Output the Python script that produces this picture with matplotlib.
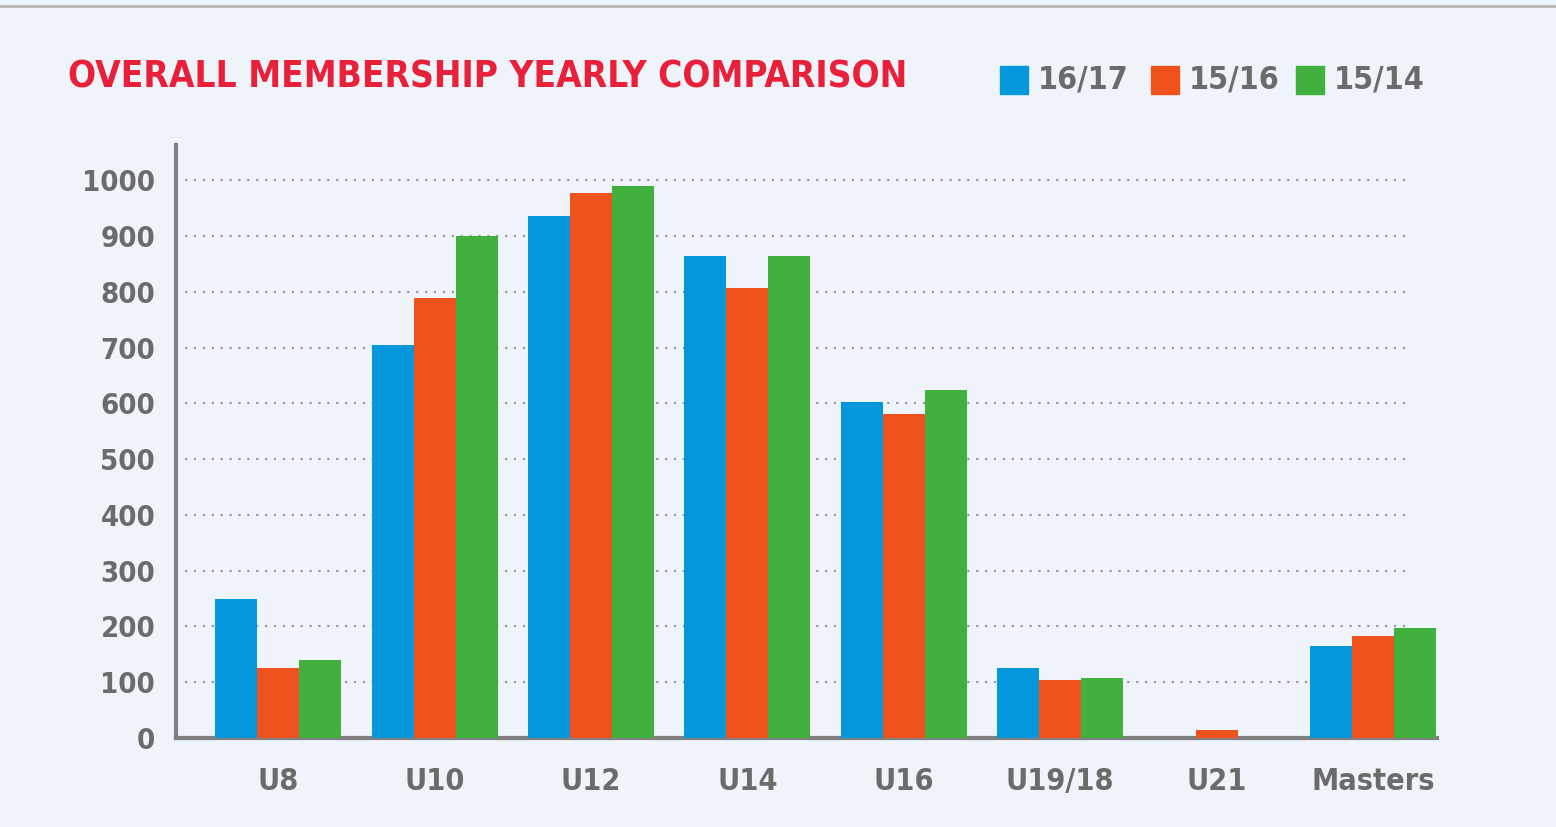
import matplotlib
matplotlib.use("Agg")
from matplotlib import pyplot as plt
from matplotlib.patches import Rectangle
import numpy as np

categories = ["U8", "U10", "U12", "U14", "U16", "U19/18", "U21", "Masters"]
season_1617 = [250, 705, 935, 864, 602, 125, 0, 165]
season_1516 = [125, 789, 977, 806, 581, 104, 14, 183]
season_1514 = [140, 900, 989, 864, 624, 108, 0, 197]
series_labels = ["16/17", "15/16", "15/14"]
yticks = [0, 100, 200, 300, 400, 500, 600, 700, 800, 900, 1000]

colors = ["#0497DB", "#F0521E", "#42B03E"]
bg = "#EFF4FB"
grey = "#6B6B6B"
font = ["DejaVu Sans"]

fig = plt.figure(figsize=(15.56, 8.27), dpi=100, facecolor=bg)
ax = fig.add_axes([176 / 1556, 1 - 738 / 827, (1437 - 176) / 1556, (738 - 145) / 827])
ax.set_facecolor(bg)

x = np.arange(len(categories))
w = 0.2685
for i, vals in enumerate([season_1617, season_1516, season_1514]):
    ax.bar(x + (i - 1) * w, vals, width=w, color=colors[i], zorder=3)

ax.set_xlim(-0.653, 7.409)
ax.set_ylim(0, 1063)
ax.hlines(yticks[1:], -0.596, 7.236, colors="#9A9A9A", linestyles=(0, (1, 3)), linewidth=1.6, zorder=1)

for s in ["top", "right"]:
    ax.spines[s].set_visible(False)
for s in ["left", "bottom"]:
    ax.spines[s].set_color("#7F7F7F")
    ax.spines[s].set_linewidth(3)

ax.set_yticks(yticks)
ax.set_yticklabels([str(t) for t in yticks], fontsize=21, color=grey, fontweight="bold",
                   family=font, fontstretch="condensed")
ax.set_xticks(x)
ax.set_xticklabels(categories, fontsize=22, color=grey, fontweight="bold", family=font,
                   fontstretch="condensed")
ax.tick_params(axis="y", length=0, pad=15)
ax.tick_params(axis="x", length=0, pad=21)

fig.text(68 / 1556, 1 - 77 / 827, "OVERALL MEMBERSHIP YEARLY COMPARISON", fontsize=26.6,
         color="#E8203A", fontweight="bold", family=font, fontstretch="condensed",
         va="center", ha="left")

# legend
sq_x = [1000, 1151, 1296]
for i, lab in enumerate(series_labels):
    fig.patches.append(Rectangle((sq_x[i] / 1556, 1 - 94 / 827), 28 / 1556, 28 / 827,
                                 transform=fig.transFigure, color=colors[i]))
    fig.text((sq_x[i] + 38) / 1556, 1 - 80 / 827, lab, fontsize=23, color=grey,
             fontweight="bold", family=font, fontstretch="condensed", va="center", ha="left")

# top border
fig.add_artist(plt.Line2D([0, 1], [1 - 6 / 827, 1 - 6 / 827], color="#B5B5B5", linewidth=2))

fig.savefig("out.png", dpi=100, facecolor=bg)
